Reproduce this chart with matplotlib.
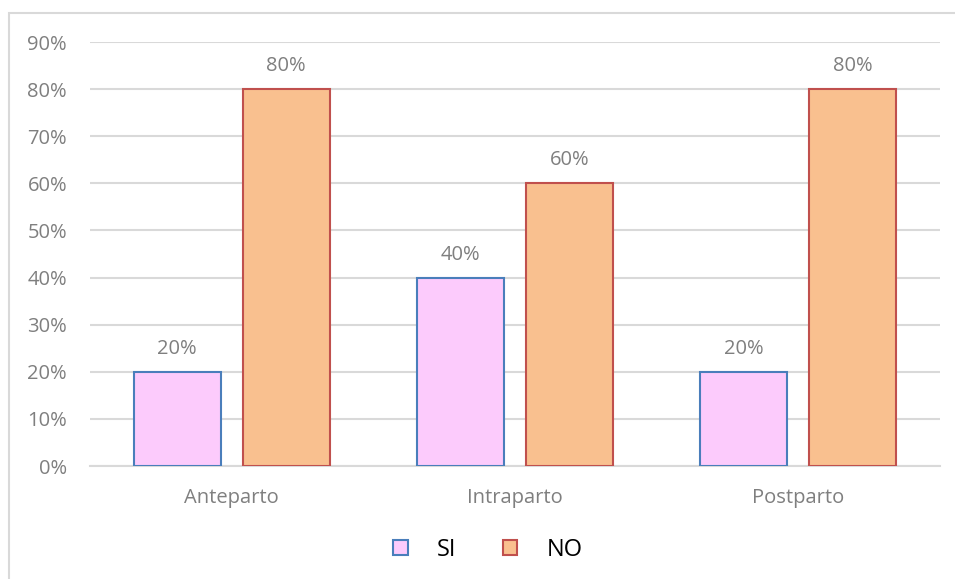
import matplotlib.pyplot as plt
import numpy as np
from matplotlib.patches import Rectangle
from matplotlib.ticker import FuncFormatter

categories = ["Anteparto", "Intraparto", "Postparto"]
si_values = [20, 40, 20]
no_values = [80, 60, 80]

plt.rcParams['font.family'] = ['Open Sans', 'DejaVu Sans']

fig = plt.figure(figsize=(9.55, 5.79), dpi=100)
# outer chart frame
fig.patches.append(Rectangle((9 / 955, -0.1), 1.0, (579 - 13) / 579 + 0.1,
                             transform=fig.transFigure, fill=False,
                             edgecolor='#D9D9D9', linewidth=1.5))

ax = fig.add_axes([90 / 955, (579 - 466) / 579, 850 / 955, 424 / 579])

x = np.arange(len(categories))
w = 0.307
off = 0.1926
b1 = ax.bar(x - off, si_values, w, color='#FCCBFC', edgecolor='#4A7EBB', linewidth=1.5, label='SI', zorder=3)
b2 = ax.bar(x + off, no_values, w, color='#F9C08F', edgecolor='#C0504D', linewidth=1.5, label='NO', zorder=3)

for bars, vals in ((b1, si_values), (b2, no_values)):
    for bar, v in zip(bars, vals):
        ax.text(bar.get_x() + bar.get_width() / 2, v + 3.8, f"{v}%", ha='center', va='baseline',
                fontsize=14.5, color='#7F7F7F')

ax.set_xlim(-0.5, 2.5)
ax.set_ylim(0, 90)
ax.set_yticks(range(0, 91, 10))
ax.yaxis.set_major_formatter(FuncFormatter(lambda v, p: f"{int(v)}%"))
ax.set_xticks(x)
ax.set_xticklabels(categories)
ax.tick_params(axis='both', length=0, labelsize=14.5, labelcolor='#7F7F7F')
ax.tick_params(axis='x', pad=15.5)
ax.tick_params(axis='y', pad=16.5)
ax.grid(axis='y', color='#D9D9D9', linewidth=1.5, zorder=0)
for s in ('top', 'right', 'left'):
    ax.spines[s].set_visible(False)
ax.spines['bottom'].set_color('#D9D9D9')
ax.spines['bottom'].set_linewidth(1.5)

fig.legend(handles=[b1, b2], labels=['SI', 'NO'], loc='center', bbox_to_anchor=(488 / 955, 1 - 550 / 579),
           ncol=2, frameon=False, fontsize=17, handlelength=0.6, handleheight=0.6,
           columnspacing=1.95, handletextpad=1.25)

fig.savefig('out.png', dpi=100)
